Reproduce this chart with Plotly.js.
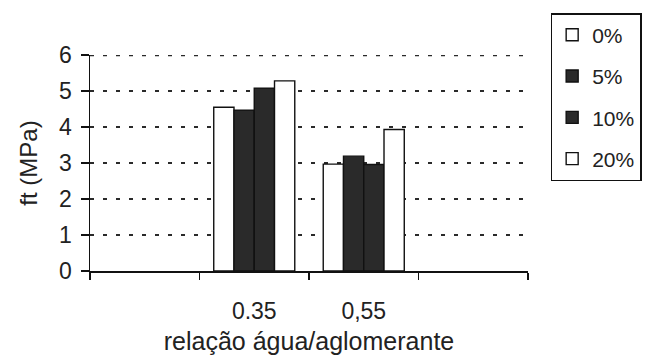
<!DOCTYPE html>
<html>
<head>
<meta charset="utf-8">
<script src="https://cdn.plot.ly/plotly-3.0.1.min.js"></script>
<style>
  html, body { margin: 0; padding: 0; background: #fff; }
  #chart { width: 654px; height: 361px; }
</style>
</head>
<body>
<div id="chart"></div>
<script>
// Tensile strength ft (MPa) by water/binder ratio and replacement level
const categories = ["pad0", "0.35", "0,55", "pad1"];
const tickLabels = ["", "0.35", "0,55", ""];
const groups = ["0.35", "0,55"];

const seriesNames = ["0%", "5%", "10%", "20%"];
const s0 = [4.55, 2.97];
const s5 = [4.47, 3.19];
const s10 = [5.08, 2.96];
const s20 = [5.28, 3.93];

const yTicks = [0, 1, 2, 3, 4, 5, 6];

const fills = ["#ffffff", "#2a2a2a", "#2a2a2a", "#ffffff"];
const values = [s0, s5, s10, s20];

const font = "Arial, 'Liberation Sans', sans-serif";
const ink = "#222";
const gridDash = "4px,9px";

const traces = values.map((v, i) => ({
  type: "bar",
  name: seriesNames[i],
  x: groups,
  y: v,
  legendgroup: "g" + i,
  marker: { color: fills[i], line: { color: "#111", width: 1.4 } },
  hoverinfo: "skip"
}));

const yMax = yTicks[yTicks.length - 1];

const layout = {
  width: 654,
  height: 361,
  margin: { l: 90, r: 117, t: 55, b: 90 },
  paper_bgcolor: "#ffffff",
  plot_bgcolor: "#ffffff",
  font: { family: font, size: 23, color: ink },
  barmode: "group",
  bargap: 0.26,
  bargroupgap: 0,
  showlegend: true,
  legend: {
    x: 1.2595, xanchor: "right",
    y: 1.194, yanchor: "top",
    bgcolor: "#ffffff",
    bordercolor: "#111",
    borderwidth: 1.5,
    font: { family: font, size: 21, color: ink },
    traceorder: "grouped",
    tracegroupgap: 11,
    itemwidth: 30
  },
  // top gridline at the end of the value range
  shapes: [{
    type: "line", layer: "below",
    xref: "paper", x0: 0, x1: 1,
    yref: "y", y0: yMax, y1: yMax,
    line: { color: "#2a2a2a", width: 2.5, dash: gridDash }
  }],
  xaxis: {
    type: "category",
    categoryorder: "array",
    categoryarray: categories,
    tickmode: "array",
    tickvals: categories,
    ticktext: tickLabels,
    range: [-0.5, 3.5],
    tickson: "boundaries",
    ticks: "outside",
    ticklen: 7,
    tickwidth: 1.5,
    tickcolor: "#111",
    ticklabelstandoff: 18,
    showline: true,
    linecolor: "#111",
    linewidth: 2,
    showgrid: false,
    zeroline: false,
    tickfont: { family: font, size: 23, color: ink },
    title: { text: "relação água/aglomerante", font: { family: font, size: 25, color: ink }, standoff: 10 }
  },
  yaxis: {
    range: [0, yMax],
    tickmode: "array",
    tickvals: yTicks,
    ticks: "outside",
    ticklen: 8,
    tickwidth: 1.5,
    tickcolor: "#111",
    ticklabelstandoff: 4,
    showline: true,
    linecolor: "#111",
    linewidth: 1.5,
    showgrid: true,
    gridcolor: "#2a2a2a",
    gridwidth: 2.5,
    griddash: gridDash,
    zeroline: false,
    tickfont: { family: font, size: 23, color: ink },
    title: { text: "ft (MPa)", font: { family: font, size: 24, color: ink }, standoff: 14 }
  }
};

Plotly.newPlot("chart", traces, layout, { staticPlot: true, displayModeBar: false });
</script>
</body>
</html>
